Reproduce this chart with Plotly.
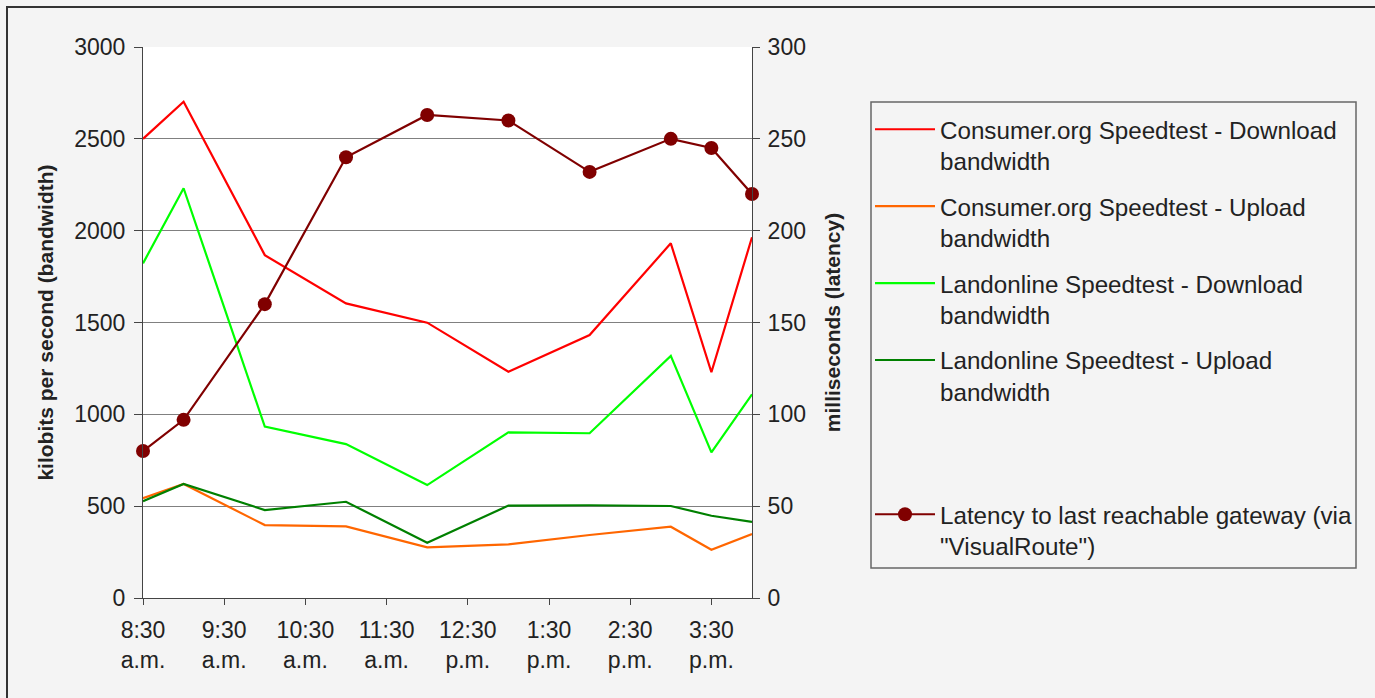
import plotly.graph_objects as go

# ---- data (hours of day, 24h clock) ----
times = [8.5, 9, 10, 11, 12, 13, 14, 15, 15.5, 16]
consumer_down = [2500, 2702, 1867, 1604, 1499, 1232, 1432, 1931, 1229, 1964]
consumer_up = [543, 621, 397, 390, 276, 292, 343, 388, 263, 348]
landonline_down = [1822, 2231, 933, 838, 615, 902, 897, 1318, 793, 1109]
landonline_up = [527, 621, 479, 524, 301, 503, 505, 501, 448, 414]
latency = [80, 97, 160, 240, 263, 260, 232, 250, 245, 220]

tick_vals = [8.5, 9.5, 10.5, 11.5, 12.5, 13.5, 14.5, 15.5]
tick_text = ["8:30<br>a.m.", "9:30<br>a.m.", "10:30<br>a.m.", "11:30<br>a.m.",
             "12:30<br>p.m.", "1:30<br>p.m.", "2:30<br>p.m.", "3:30<br>p.m."]

names = ["Consumer.org Speedtest - Download<br>bandwidth",
         "Consumer.org Speedtest - Upload<br>bandwidth",
         "Landonline Speedtest - Download<br>bandwidth",
         "Landonline Speedtest - Upload<br>bandwidth"]
latency_name = "Latency to last reachable gateway (via<br>\"VisualRoute\")"

FONT = "Liberation Sans, Arial, sans-serif"
TXT = "#222222"

W, H = 1375, 698
L, R, T, B = 143, 752, 47, 598

def px(x):
    return (x - L) / (R - L)

def py(y):
    return (B - y) / (B - T)

fig = go.Figure()
series = [consumer_down, consumer_up, landonline_down, landonline_up]
colors = ["#ff0000", "#ff6600", "#00ff00", "#008000"]
for i, (vals, col, nm) in enumerate(zip(series, colors, names)):
    fig.add_trace(go.Scatter(x=times, y=vals, mode="lines", name=nm,
                             line=dict(color=col, width=2.2),
                             legendgroup=f"g{i}", legend="legend"))
fig.add_trace(go.Scatter(x=times, y=latency, mode="lines+markers", name=latency_name,
                         line=dict(color="#800000", width=2.2),
                         marker=dict(color="#800000", size=14),
                         cliponaxis=False,
                         yaxis="y2", legend="legend2"))

fig.update_layout(
    width=W, height=H,
    margin=dict(l=L, r=W - R, t=T, b=H - B),
    paper_bgcolor="#f4f4f4", plot_bgcolor="#ffffff",
    font=dict(family=FONT, size=23, color=TXT),
    xaxis=dict(range=[8.5, 16], tickvals=tick_vals, ticktext=tick_text,
               showgrid=False, zeroline=False, showline=True, linecolor="#444444",
               linewidth=1, ticks="outside", ticklen=6, tickcolor="#444444",
               ticklabelstandoff=5,
               tickfont=dict(size=23, color=TXT)),
    yaxis=dict(range=[0, 3000], dtick=500, showgrid=True, gridcolor="#808080",
               gridwidth=1, zeroline=False, showline=True, linecolor="#444444",
               linewidth=1, ticks="outside", ticklen=8, tickcolor="#444444",
               ticklabelstandoff=4,
               tickfont=dict(size=23, color=TXT),
               title=dict(text="<b>kilobits per second (bandwidth)</b>",
                          font=dict(size=21, color=TXT), standoff=14)),
    yaxis2=dict(range=[0, 300], dtick=50, overlaying="y", side="right",
                showgrid=False, zeroline=False, showline=True, linecolor="#444444",
                linewidth=1, ticks="outside", ticklen=7, tickcolor="#444444",
                ticklabelstandoff=3,
                tickfont=dict(size=23, color=TXT),
                title=dict(text="<b>milliseconds (latency)</b>",
                           font=dict(size=21, color=TXT), standoff=20)),
    legend=dict(x=px(870), y=py(107), xanchor="left", yanchor="top",
                bgcolor="rgba(0,0,0,0)", borderwidth=0,
                font=dict(size=24.2, color=TXT), valign="top",
                traceorder="grouped", tracegroupgap=11, itemwidth=60),
    legend2=dict(x=px(870), y=py(492), xanchor="left", yanchor="top",
                 bgcolor="rgba(0,0,0,0)", borderwidth=0,
                 font=dict(size=24.2, color=TXT), valign="top", itemwidth=60),
    shapes=[
        dict(type="line", xref="x", yref="y", x0=8.5, x1=16, y0=3000, y1=3000,
             line=dict(color="#ffffff", width=2), layer="between"),
        dict(type="rect", xref="paper", yref="paper",
             x0=px(871), x1=px(1356), y0=py(568), y1=py(102),
             line=dict(color="#666666", width=1.5), fillcolor="rgba(0,0,0,0)", layer="below"),
        dict(type="rect", xref="paper", yref="paper",
             x0=px(7), x1=px(1400), y0=py(720), y1=py(7),
             line=dict(color="#333333", width=2), fillcolor="rgba(0,0,0,0)", layer="below"),
    ],
)

fig.write_html("out.html")
